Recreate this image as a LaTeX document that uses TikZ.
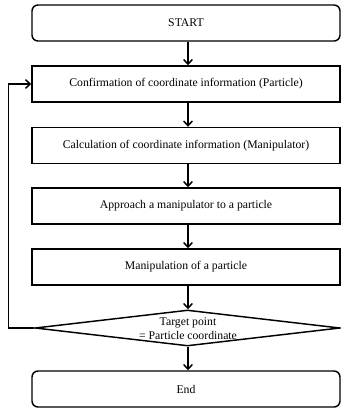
\documentclass[tikz,border=0pt]{standalone}
\usepackage{fontspec}
\setmainfont{Liberation Serif}
\usetikzlibrary{shapes.geometric,arrows.meta}

\tikzset{
  stepbox/.style={draw, line width=1.1pt, rectangle, minimum width=231pt, minimum height=27pt, inner sep=0.75pt, font=\fontsize{8.8}{10.5}\selectfont},
  termbox/.style={stepbox, rounded corners=4.5pt},
  decision/.style={draw, line width=1.1pt, diamond, minimum width=228.75pt, minimum height=27pt, inner sep=0pt},
  flow/.style={line width=1.1pt, -{Straight Barb[length=3.5pt,width=6.5pt,line width=1.1pt]}}
}

\begin{document}
\begin{tikzpicture}[x=0.75pt,y=0.75pt,yscale=-1,xscale=1]
    \useasboundingbox (0,0) rectangle (341,408);

    %Shape: Rounded Rect [id:start]
    \node [termbox] (start) at (186,23) {START};
    %Shape: Rectangle [id:confirm]
    \node [stepbox] (confirm) at (186,84) {Confirmation of coordinate information (Particle)};
    %Shape: Rectangle [id:calc]
    \node [stepbox] (calc) at (186,145.5) {Calculation of coordinate information (Manipulator)};
    %Shape: Rectangle [id:approach]
    \node [stepbox] (approach) at (186,206) {Approach a manipulator to a particle};
    %Shape: Rectangle [id:manip]
    \node [stepbox] (manip) at (186,267) {Manipulation of a particle};
    %Shape: Diamond [id:check]
    \node [decision] (check) at (187.5,328) {};
    % Text Node
    \node [align=center, inner sep=0.75pt, font=\fontsize{8.8}{10.5}\selectfont] (checktext) at (188,328.5) {Target point\\= Particle coordinate};
    %Shape: Rounded Rect [id:finish]
    \node [termbox] (finish) at (186,389) {End};

    %Straight Lines
    \draw [flow] (start.south -| 188,0) -- (confirm.north -| 188,0);
    \draw [flow] (confirm.south -| 188,0) -- (calc.north -| 188,0);
    \draw [flow] (calc.south -| 188,0) -- (approach.north -| 188,0);
    \draw [flow] (approach.south -| 188,0) -- (manip.north -| 188,0);
    \draw [flow] (manip.south -| 188,0) -- (check.north -| 188,0);
    \draw [flow] (check.south -| 188,0) -- (finish.north -| 188,0);
    %Loop back
    \coordinate (loop) at (8.5,328);
    \draw [flow] (check.west) -- (loop) |- (confirm.west);

\end{tikzpicture}
\end{document}
